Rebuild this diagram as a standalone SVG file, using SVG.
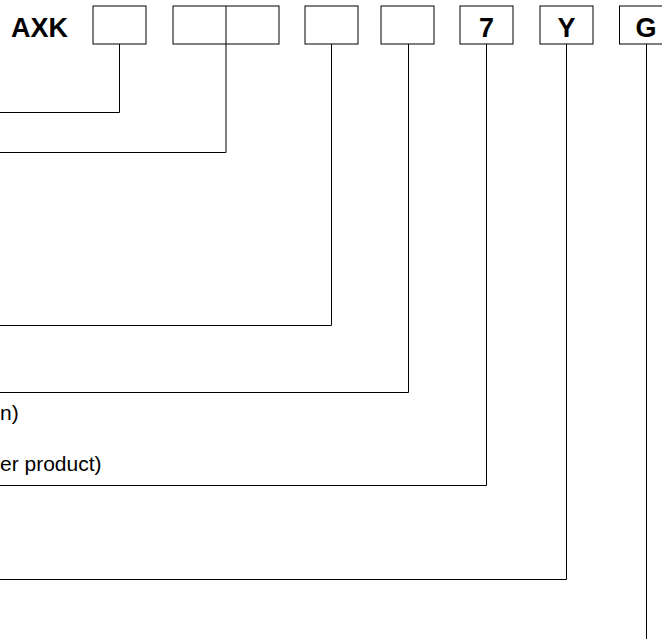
<svg xmlns="http://www.w3.org/2000/svg" width="662" height="639" viewBox="0 0 662 639">
<style>
.box{fill:#fff;stroke:#000;stroke-width:1}
.ln{fill:none;stroke:#000;stroke-width:1}
.big{font-family:"Liberation Sans",Arial,sans-serif;font-weight:bold;font-size:27px;fill:#000}
.lbl{font-family:"Liberation Sans",Arial,sans-serif;font-size:21px;fill:#000}
</style>
<rect width="662" height="639" fill="#fff"/>
<g id="prefix"><text class="big" x="11" y="37">AXK</text></g>
<g id="connectors">
<path class="ln" d="M119.5 44 V112.5 H0"/>
<path class="ln" d="M226 44 V152.5 H0"/>
<path class="ln" d="M331.5 44 V325.5 H0"/>
<path class="ln" d="M408.5 44 V392.5 H0"/>
<path class="ln" d="M486.5 44 V485.5 H0"/>
<path class="ln" d="M566.5 44 V579.5 H0"/>
<path class="ln" d="M646.5 44 V639"/>
</g>
<g id="box1"><rect class="box" x="93" y="6" width="53" height="38"/></g>
<g id="box2"><rect class="box" x="173" y="6" width="106" height="38"/><line class="ln" x1="226" y1="6" x2="226" y2="44"/></g>
<g id="box3"><rect class="box" x="305" y="6" width="53" height="38"/></g>
<g id="box4"><rect class="box" x="381" y="6" width="53" height="38"/></g>
<g id="box7"><rect class="box" x="460" y="6" width="53" height="38"/><text class="big" x="486.5" y="37" text-anchor="middle">7</text></g>
<g id="boxY"><rect class="box" x="540" y="6" width="53" height="38"/><text class="big" x="566.5" y="37" text-anchor="middle">Y</text></g>
<g id="boxG"><rect class="box" x="619.5" y="6" width="53" height="38"/><text class="big" x="646" y="37" text-anchor="middle">G</text></g>
<g id="labels">
<text class="lbl" x="0" y="420">n)</text>
<text class="lbl" x="0" y="471">er product)</text>
</g>
</svg>
